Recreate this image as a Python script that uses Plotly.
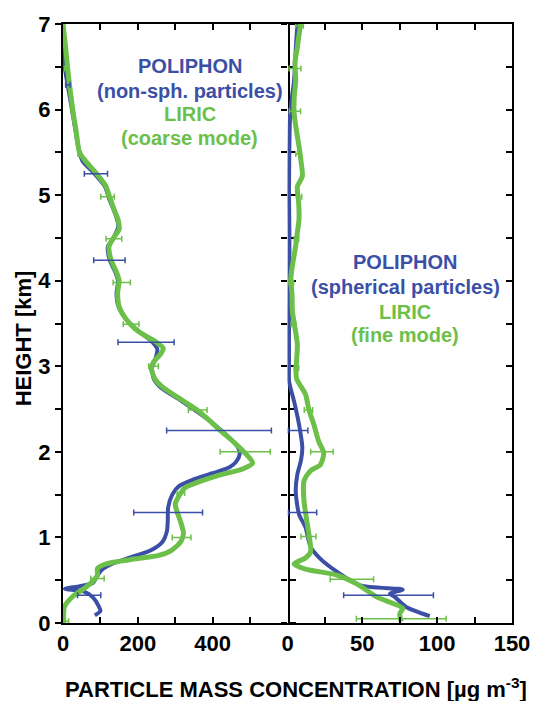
import plotly.graph_objects as go

BLUE = "#3b4fa6"
GREEN = "#6cc04a"

# ---- Left panel: coarse / non-spherical ----
nonsph_h = [7.0, 6.6, 6.3, 6.0, 5.5, 5.4, 5.25, 5.1, 4.95, 4.8, 4.64, 4.5, 4.4, 4.24, 4.1, 4.0, 3.85, 3.7,
            3.56, 3.4, 3.3, 3.2, 3.1, 2.98, 2.85, 2.75, 2.6, 2.45, 2.3, 2.15, 2.05, 1.97, 1.88, 1.82, 1.75,
            1.68, 1.6, 1.5, 1.35, 1.2, 1.08, 0.95, 0.85, 0.78, 0.7, 0.62, 0.54, 0.47, 0.43, 0.40, 0.37,
            0.3, 0.2, 0.14, 0.09]
nonsph_v = [0, 1, 12, 24, 44, 52, 84, 112, 124, 138, 148, 135, 120, 125, 140, 147, 143, 148,
            167, 205, 235, 252, 248, 238, 243, 262, 315, 365, 410, 448, 468, 472, 462, 445, 400,
            350, 310, 292, 281, 280, 278, 266, 235, 190, 135, 103, 90, 80, 45, 5, 55,
            80, 95, 100, 85]

coarse_h = [7.0, 6.73, 6.5, 6.3, 6.0, 5.75, 5.5, 5.4, 5.25, 5.11, 5.0, 4.85, 4.7, 4.6, 4.5, 4.4, 4.25,
            4.1, 4.0, 3.85, 3.7, 3.56, 3.45, 3.37, 3.28, 3.21, 3.15, 3.05, 2.98, 2.85, 2.75, 2.6, 2.5,
            2.38, 2.24, 2.1, 1.98, 1.87, 1.8, 1.73, 1.66, 1.58, 1.5, 1.39, 1.3, 1.2, 1.05, 0.95, 0.85,
            0.79, 0.75, 0.69, 0.635, 0.56, 0.48, 0.42, 0.31, 0.19, 0.0]
coarse_v = [0, 7, 12, 17, 26, 35, 44, 60, 90, 114, 123, 135, 148, 150, 135, 123, 128,
            143, 150, 146, 150, 167, 190, 215, 250, 268, 262, 242, 236, 246, 268, 320, 355,
            388, 423, 460, 488, 507, 480, 420, 370, 326, 312, 300, 305, 313, 322, 315, 290,
            256, 194, 115, 92, 92, 78, 62, 26, 4, 2]

nonsph_err_h = [6.29, 5.25, 4.24, 3.28, 2.25, 1.29, 0.325]
nonsph_err_v = [13, 88, 124, 222, 417, 281, 70]
nonsph_err = [6, 31, 42, 75, 140, 92, 31]

coarse_err_h = [6.48, 5.98, 5.48, 4.98, 4.49, 3.98, 3.49, 3.0, 2.49, 2.0, 1.52, 1.0, 0.52, 0.02]
coarse_err_v = [8, 26, 44, 119, 136, 157, 182, 242, 360, 487, 315, 317, 92, 5]
coarse_err = [4, 4, 4, 18, 21, 23, 21, 13, 25, 67, 10, 25, 18, 10]

# ---- Right panel: fine / spherical ----
sph_h = [7.0, 6.7, 6.34, 6.15, 5.96, 5.5, 5.0, 4.5, 4.0, 3.5, 3.0, 2.82, 2.59, 2.32, 2.05, 1.9, 1.74,
         1.54, 1.27, 1.12, 0.89, 0.75, 0.60, 0.44, 0.39, 0.345, 0.3, 0.19, 0.08]
sph_v = [6.6, 5.5, 4.4, 3.0, 1.8, 1.2, 1.0, 1.3, 1.2, 1.0, 1.0, 1.1, 4.4, 7.7, 9.9, 9.0, 6.6,
         5.5, 7.7, 12, 15.4, 22, 33, 48.5, 77, 68.5, 72, 79, 95]

fine_h = [7.0, 6.85, 6.73, 6.55, 6.34, 6.15, 5.96, 5.75, 5.57, 5.4, 5.22, 5.1, 4.9, 4.72, 4.55, 4.41,
          4.2, 4.02, 3.85, 3.64, 3.45, 3.25, 3.05, 2.86, 2.67, 2.49, 2.32, 2.12, 1.99, 1.85, 1.78,
          1.66, 1.43, 1.16, 1.04, 0.83, 0.76, 0.69, 0.63, 0.56, 0.46, 0.305, 0.17, 0.11, 0.015]
fine_v = [8.8, 7.5, 6.6, 5.0, 5.5, 4.5, 4.4, 6.0, 7.7, 9.0, 9.9, 6.6, 7.5, 7.7, 6.5, 5.5,
          3.5, 2.2, 3.0, 3.3, 5.0, 6.6, 6.0, 6.0, 12.1, 14.3, 17.6, 20.9, 24.2, 22, 15.4,
          11, 11, 13.2, 14.3, 15.4, 12, 4.4, 12, 33, 46, 59.5, 77, 75, 76]

sph_err_h = [2.25, 1.29, 0.325]
sph_err_v = [7, 10, 67.5]
sph_err = [6.6, 9.5, 30]

fine_err_h = [6.98, 6.48, 5.98, 5.48, 4.98, 4.49, 3.98, 3.49, 2.98, 2.49, 2.0, 1.01, 0.51, 0.05]
fine_err_v = [8, 5, 5, 7, 8, 6, 2.5, 4, 6, 14, 23, 14, 43, 76]
fine_err = [2.6, 4, 3.7, 1.5, 1.5, 1.5, 1.5, 1.5, 1.5, 2.8, 7.5, 5, 14.5, 30]

y_ticks = [i * 0.5 for i in range(15)]
y_text = [str(int(t)) if t == int(t) else "" for t in y_ticks]
x1_ticks = [0, 100, 200, 300, 400, 500, 600]
x1_text = ["0", "", "200", "", "400", "", ""]
x2_ticks = [0, 25, 50, 75, 100, 125, 150]
x2_text = ["0", "", "50", "", "100", "", "150"]

fig = go.Figure()


def line(x, y, color, width, xa, ya):
    fig.add_trace(go.Scatter(x=x, y=y, mode="lines", xaxis=xa, yaxis=ya,
                             line=dict(color=color, width=width, shape="spline", smoothing=0.7),
                             showlegend=False, hoverinfo="skip"))


def errs(x, y, e, color, xa, ya):
    fig.add_trace(go.Scatter(x=x, y=y, mode="markers", xaxis=xa, yaxis=ya,
                             marker=dict(size=1, color=color),
                             error_x=dict(type="data", array=e, color=color, thickness=1.5, width=3),
                             showlegend=False, hoverinfo="skip"))


line(nonsph_v, nonsph_h, BLUE, 4, "x", "y")
line(coarse_v, coarse_h, GREEN, 5, "x", "y")
errs(nonsph_err_v, nonsph_err_h, nonsph_err, BLUE, "x", "y")
errs(coarse_err_v, coarse_err_h, coarse_err, GREEN, "x", "y")

line(sph_v, sph_h, BLUE, 4, "x2", "y2")
line(fine_v, fine_h, GREEN, 5, "x2", "y2")
errs(sph_err_v, sph_err_h, sph_err, BLUE, "x2", "y2")
errs(fine_err_v, fine_err_h, fine_err, GREEN, "x2", "y2")

# dummy trace so the right-border axis renders
fig.add_trace(go.Scatter(x=[None], y=[None], xaxis="x2", yaxis="y3", showlegend=False))

FONT = "Liberation Sans, Arial, sans-serif"
tickfont = dict(family=FONT, size=22, color="black", weight="bold")

common_axis = dict(linecolor="black", linewidth=2, tickcolor="black",
                   tickwidth=2, ticklen=6, showgrid=False, zeroline=False, tickfont=tickfont)

fig.update_layout(
    width=542, height=701,
    margin=dict(l=63, r=25, t=20, b=78),
    plot_bgcolor="white", paper_bgcolor="white",
    xaxis=dict(domain=[0, 0.5], range=[0, 600], anchor="y", tickmode="array", showline=True,
               tickvals=x1_ticks, ticktext=x1_text, ticks="inside", mirror="ticks", **common_axis),
    xaxis2=dict(domain=[0.5, 1], range=[0, 150], anchor="y2", tickmode="array", showline=True,
                tickvals=x2_ticks, ticktext=x2_text, ticks="inside", mirror="ticks", **common_axis),
    yaxis=dict(domain=[0, 1], range=[0, 7], anchor="x", tickmode="array", showline=True,
               tickvals=y_ticks, ticktext=y_text, ticks="outside", mirror="ticks", **common_axis),
    yaxis2=dict(domain=[0, 1], range=[0, 7], anchor="x2", tickmode="array", showline=False,
                tickvals=y_ticks, ticks="outside", showticklabels=False, **common_axis),
    yaxis3=dict(range=[0, 7], anchor="x2", overlaying="y2", side="right", tickmode="array",
                showline=True, tickvals=y_ticks, ticks="inside", showticklabels=False,
                **common_axis),
)

L, R, T, B = 63, 25, 20, 78
pw, ph = 542 - L - R, 701 - T - B


def px_to_paper(px, py):
    return (px - L) / pw, 1 - (py - T) / ph


ann_font = dict(family=FONT, size=20, weight="bold")
labels = [
    ("POLIPHON", BLUE, 191, 62), ("(non-sph. particles)", BLUE, 191, 87),
    ("LIRIC", GREEN, 191, 111), ("(coarse mode)", GREEN, 191, 135),
    ("POLIPHON", BLUE, 409, 260), ("(spherical particles)", BLUE, 409, 285),
    ("LIRIC", GREEN, 409, 310), ("(fine mode)", GREEN, 409, 333),
]
for txt, col, px, py in labels:
    ax, ay = px_to_paper(px, py)
    fig.add_annotation(text=txt, x=ax, y=ay, xref="paper", yref="paper",
                       xanchor="center", yanchor="middle", showarrow=False,
                       font=dict(color=col, **ann_font))

ax, ay = px_to_paper(298.5, 688)
fig.add_annotation(text="PARTICLE MASS CONCENTRATION [µg m<sup>-3</sup>]",
                   x=ax, y=ay, xref="paper", yref="paper",
                   xanchor="center", yanchor="middle", showarrow=False,
                   font=dict(family=FONT, size=22, color="black", weight="bold"))
ax, ay = px_to_paper(23, 336)
fig.add_annotation(text="HEIGHT [km]", x=ax, y=ay, xref="paper", yref="paper",
                   xanchor="center", yanchor="middle", showarrow=False, textangle=-90,
                   font=dict(family=FONT, size=22, color="black", weight="bold"))

fig.write_html("out.html")
